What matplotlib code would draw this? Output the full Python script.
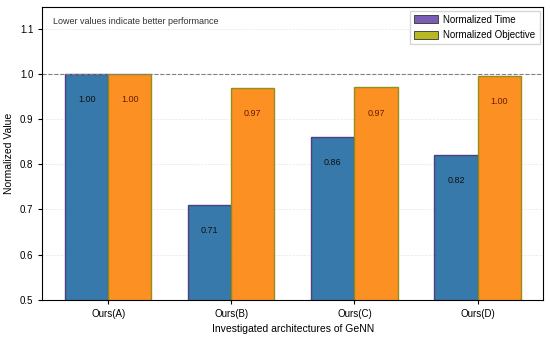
import numpy as np
import matplotlib.pyplot as plt
from matplotlib.patches import Patch

# ── data ──────────────────────────────────────────────
categories = ['Ours(A)', 'Ours(B)', 'Ours(C)', 'Ours(D)']
norm_time = [1.00, 0.71, 0.86, 0.82]
norm_obj = [1.00, 0.968, 0.97, 0.996]
time_labels = ['1.00', '0.71', '0.86', '0.82']
obj_labels = ['1.00', '0.97', '0.97', '1.00']

plt.rcParams['font.family'] = ['Liberation Sans', 'DejaVu Sans']

fig, ax = plt.subplots(figsize=(5.5, 3.4), dpi=100)
fig.subplots_adjust(left=0.077, right=0.988, top=0.98, bottom=0.118)

x = np.arange(len(categories))
w = 0.35

b1 = ax.bar(x - w / 2, norm_time, w, color='#2b72a6', alpha=0.95,
            edgecolor='#4a3a7a', linewidth=1.0)
b2 = ax.bar(x + w / 2, norm_obj, w, color='#fc8a16', alpha=0.95,
            edgecolor='#8c8c1a', linewidth=1.0)

for xi, v, s in zip(x - w / 2, norm_time, time_labels):
    ax.text(xi, v - 0.057, s, ha='center', va='center', fontsize=6.5, color='#111111')
for xi, v, s in zip(x + w / 2, norm_obj, obj_labels):
    ax.text(xi, v - 0.057, s, ha='center', va='center', fontsize=6.5, color='#6b1a00')

ax.axhline(1.0, color='gray', linestyle='--', linewidth=0.8)

ax.set_ylim(0.5, 1.148)
ax.set_xlim(-0.535, 3.535)
ax.set_yticks([0.5, 0.6, 0.7, 0.8, 0.9, 1.0, 1.1])
ax.set_xticks(x)
ax.set_xticklabels(categories)
ax.tick_params(labelsize=7, length=3)
ax.yaxis.grid(True, linestyle='--', linewidth=0.5, alpha=0.3)
ax.set_axisbelow(True)

ax.set_xlabel('Investigated architectures of GeNN', fontsize=7.5)
ax.set_ylabel('Normalized Value', fontsize=7.5)

ax.text(0.022, 0.94, 'Lower values indicate better performance',
        transform=ax.transAxes, fontsize=6.5, color='#333333')

handles = [Patch(facecolor='#7a5cb5', edgecolor='#333333', linewidth=0.6, label='Normalized Time'),
           Patch(facecolor='#b8b822', edgecolor='#333333', linewidth=0.6, label='Normalized Objective')]
ax.legend(handles=handles, loc='upper right', fontsize=7, frameon=True,
          fancybox=False, edgecolor='#cccccc', handlelength=2.4, handleheight=0.9,
          handletextpad=0.6, borderaxespad=0.4, labelspacing=0.6)

fig.savefig('out.png', dpi=100)
